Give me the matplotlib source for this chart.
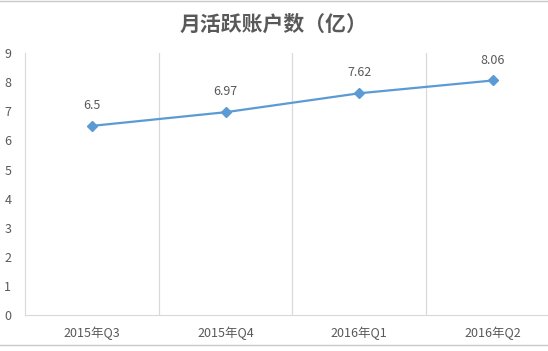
import matplotlib.pyplot as plt
from matplotlib.lines import Line2D

plt.rcParams['font.family'] = ['Noto Sans CJK SC', 'DejaVu Sans']

quarters = ['2015年Q3', '2015年Q4', '2016年Q1', '2016年Q2']
mau = [6.5, 6.97, 7.62, 8.06]
mau_labels = ['6.5', '6.97', '7.62', '8.06']

grey = '#595959'
blue = '#5B9BD5'

fig = plt.figure(figsize=(5.48, 3.51), dpi=100)
ax = fig.add_axes([0.046, 0.1026, 0.975, 0.746])

x = list(range(len(quarters)))
ax.plot(x, mau, color=blue, lw=1.6, marker='D', ms=5, mec=blue, mfc=blue)
for xi, v, lab in zip(x, mau, mau_labels):
    ax.annotate(lab, (xi, v), xytext=(0, 10), textcoords='offset points',
                ha='center', va='bottom', fontsize=9, color=grey)

ax.set_xlim(-0.5, len(quarters) - 0.5)
ax.set_ylim(0, 9)
ax.set_yticks(range(10))
ax.set_xticks(x)
ax.set_xticklabels(quarters)
for b in [0.5, 1.5, 2.5]:
    ax.axvline(b, color='#D9D9D9', lw=0.9, zorder=0)

for s in ['top', 'right']:
    ax.spines[s].set_visible(False)
ax.spines['left'].set_color('#D9D9D9')
ax.spines['bottom'].set_color('#D9D9D9')
ax.tick_params(axis='both', length=0, colors=grey, labelsize=9)
ax.tick_params(axis='y', pad=10)
ax.tick_params(axis='x', pad=8)

fig.text(0.5, 0.93, '月活跃账户数（亿）', ha='center', va='center',
         fontsize=15, fontweight='bold', color=grey)

# chart border lines
fig.add_artist(Line2D([0, 1], [0.017, 0.017], color='#C8C8C8', lw=1))
fig.add_artist(Line2D([0, 1], [0.997, 0.997], color='#C8C8C8', lw=1))

fig.savefig('out.png', dpi=100, facecolor='white')
